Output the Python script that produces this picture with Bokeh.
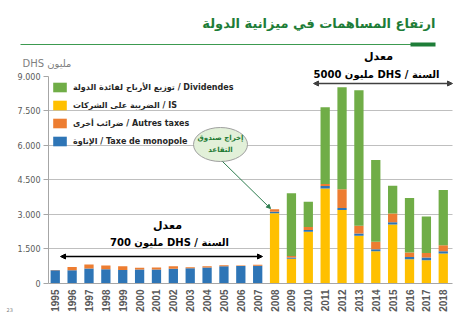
import numpy as np
from bokeh.plotting import figure
from bokeh.models import (Range1d, FixedTicker, Legend, LegendItem, Label, Arrow,
                          NormalHead, BoxAnnotation, ColumnDataSource, Grid)
from bokeh.core.properties import value
from bokeh.embed import file_html
from bokeh.resources import INLINE

# ---------------- data (millions DHS) ----------------
years = list(range(1995, 2019))
impot_societes = [0, 0, 0, 0, 0, 0, 0, 0, 0, 0, 0, 0, 0,
                  3050, 1070, 2245, 4130, 3190, 2070, 1405, 2565, 1055, 1015, 1305]
taxe_monopole = [580, 580, 650, 620, 590, 610, 610, 640, 660, 700, 750, 760, 770,
                 70, 60, 75, 100, 85, 100, 80, 100, 100, 110, 100]
autres_taxes = [10, 140, 175, 160, 160, 70, 85, 110, 50, 45, 45, 25, 40,
                100, 60, 130, 90, 815, 335, 325, 380, 195, 205, 260]
dividendes = [0, 0, 0, 0, 0, 0, 0, 0, 0, 0, 0, 0, 0,
              0, 2725, 1100, 3335, 4435, 5890, 3555, 1205, 2360, 1580, 2395]
y_ticks = [0, 1500, 3000, 4500, 6000, 7500, 9000]
y_tick_labels = ["0", "1.500", "3.000", "4.500", "6.000", "7.500", "9.000"]
series_keys = ["is_", "mono", "autres", "div"]
series_colors = ["#FFC000", "#2E75B6", "#ED7D31", "#70AD47"]
legend_labels = {
    "div": "توزيع الأرباح لفائدة الدولة / Dividendes",
    "is_": "الضريبة على الشركات / IS",
    "autres": "ضرائب أخرى / Autres taxes",
    "mono": "الإتاوة / Taxe de monopole",
}
legend_order = ["div", "is_", "autres", "mono"]

source = ColumnDataSource(dict(year=years, is_=impot_societes, mono=taxe_monopole,
                               autres=autres_taxes, div=dividendes))

# frame covers the whole canvas; axes are pinned at fixed data locations
PX_PER_YEAR = 16.87
X0_PX = 54.75          # pixel of 1995
AX_BOTTOM = 283        # pixel of value 0
UNITS_PER_PX = 9000 / (283 - 75.8)

def xd(px):
    return 1995 + (px - X0_PX) / PX_PER_YEAR

def yd(py):
    return (AX_BOTTOM - py) * UNITS_PER_PX

x_lo, x_hi = xd(48), xd(452)

p = figure(width=470, height=313, x_range=Range1d(xd(0), xd(470)),
           y_range=Range1d(yd(313), yd(0)), output_backend="svg", toolbar_location=None,
           min_border_left=0, min_border_right=0, min_border_top=0,
           min_border_bottom=0)
p.outline_line_color = None
p.background_fill_color = "white"

# grid lines limited to the plot area
p.xgrid.visible = False
p.ygrid.ticker = FixedTicker(ticks=y_ticks[1:-1])
p.ygrid.grid_line_color = "#BFBFBF"
if "cross_bounds" in Grid.properties():
    p.ygrid.cross_bounds = (x_lo, x_hi)
else:
    p.ygrid.visible = False
    p.segment(x0=x_lo, x1=x_hi, y0=y_ticks[1:-1], y1=y_ticks[1:-1],
              line_color="#BFBFBF", line_width=1)

renderers = p.vbar_stack(series_keys, x="year", width=0.55, color=series_colors,
                         source=source, line_color=None)
rmap = dict(zip(series_keys, renderers))

# axes
p.xaxis.fixed_location = 0
p.xaxis.bounds = (x_lo, x_hi)
p.xaxis.ticker = FixedTicker(ticks=years)
p.xaxis.major_label_orientation = np.pi / 2
p.xaxis.major_label_text_font = "Liberation Sans"
p.xaxis.major_label_text_font_style = "bold"
p.xaxis.major_label_text_font_size = "10px"
p.xaxis.major_label_text_color = "#595959"
p.xaxis.major_tick_out = 0
p.xaxis.major_tick_in = 0
p.xaxis.minor_tick_out = 0
p.xaxis.minor_tick_in = 0
p.xaxis.major_label_standoff = 6
p.xaxis.axis_line_color = "#A6A6A6"

p.yaxis.fixed_location = x_lo
p.yaxis.ticker = FixedTicker(ticks=y_ticks)
p.yaxis.major_label_overrides = {t: l for t, l in zip(y_ticks, y_tick_labels)}
p.yaxis.bounds = (0, 9000)
p.yaxis.major_label_text_font = "DejaVu Sans"
p.yaxis.major_label_text_font_size = "8px"
p.yaxis.major_label_text_color = "#595959"
p.yaxis.major_tick_out = 5
p.yaxis.major_tick_in = 0
p.yaxis.minor_tick_out = 0
p.yaxis.minor_tick_in = 0
p.yaxis.major_label_standoff = 3
p.yaxis.axis_line_color = "#A6A6A6"
p.yaxis.major_tick_line_color = "#A6A6A6"

# legend (location measured from bottom-left of the frame = canvas)
legend = Legend(items=[LegendItem(label=legend_labels[k], renderers=[rmap[k]]) for k in legend_order],
                location=(51, 313 - 147), glyph_width=17, glyph_height=12, label_height=12,
                spacing=6, padding=0, margin=0, label_standoff=5,
                label_text_font="DejaVu Sans", label_text_font_style="bold",
                label_text_font_size="8px", label_text_color="#262626",
                background_fill_alpha=0, border_line_color=None)
p.add_layout(legend)

# title and rule
p.add_layout(Label(x=xd(435), y=yd(30), text="ارتفاع المساهمات في ميزانية الدولة",
                   text_align="right", text_font="DejaVu Sans", text_font_style="bold",
                   text_font_size="13px", text_color="#1E7D38"))
p.add_layout(BoxAnnotation(left=xd(20), right=xd(412), bottom=yd(44.5), top=yd(43.5),
                           fill_color="#3C9A50", fill_alpha=1, line_color=None))
p.add_layout(BoxAnnotation(left=xd(410), right=xd(435), bottom=yd(46), top=yd(42),
                           fill_color="#1E7D38", fill_alpha=1, line_color=None))

# unit label
p.add_layout(Label(x=xd(22), y=yd(68), text="DHS مليون", text_font="DejaVu Sans",
                   text_font_size="10px", text_color="#7F7F7F"))
# page number
p.add_layout(Label(x=xd(6), y=yd(311), text="23", text_font="DejaVu Sans",
                   text_font_size="5px", text_color="#7F7F7F"))

# average annotations
p.add_layout(Label(x=xd(167), y=yd(231), text="معدل", text_align="center",
                   text_font="DejaVu Sans", text_font_style="bold", text_font_size="11px",
                   text_color="black"))
p.add_layout(Label(x=xd(169), y=yd(247), text="700 مليون DHS / السنة", text_align="center",
                   text_font="DejaVu Sans", text_font_style="bold", text_font_size="10px",
                   text_color="black"))
p.add_layout(Label(x=xd(378), y=yd(62), text="معدل", text_align="center",
                   text_font="DejaVu Sans", text_font_style="bold", text_font_size="11px",
                   text_color="black"))
p.add_layout(Label(x=xd(376), y=yd(79), text="5000 مليون DHS / السنة", text_align="center",
                   text_font="DejaVu Sans", text_font_style="bold", text_font_size="10px",
                   text_color="black"))

p.add_layout(Arrow(x_start=xd(60), y_start=yd(256), x_end=xd(262), y_end=yd(256),
                   start=NormalHead(size=5, fill_color="black", line_color="black"),
                   end=NormalHead(size=5, fill_color="black", line_color="black"),
                   line_color="black", line_width=1.5))
p.add_layout(Arrow(x_start=xd(313), y_start=yd(83), x_end=xd(452), y_end=yd(83),
                   start=NormalHead(size=5, fill_color="#404040", line_color="#404040"),
                   end=NormalHead(size=5, fill_color="#404040", line_color="#404040"),
                   line_color="#404040", line_width=1.5))

# callout
p.ellipse(x=[xd(220)], y=[yd(144)], width=[54 / PX_PER_YEAR], height=[34 * UNITS_PER_PX],
          fill_color="#E2F0D9", line_color="#A0A0A0", line_width=1)
p.add_layout(Label(x=xd(220), y=yd(141), text="إخراج صندوق", text_align="center",
                   text_font="DejaVu Sans", text_font_style="bold", text_font_size="7px",
                   text_color="#1F7A35"))
p.add_layout(Label(x=xd(220), y=yd(153), text="التقاعد", text_align="center",
                   text_font="DejaVu Sans", text_font_style="bold", text_font_size="7px",
                   text_color="#1F7A35"))
p.add_layout(Arrow(x_start=xd(222), y_start=yd(161), x_end=xd(270), y_end=yd(208),
                   end=NormalHead(size=4, fill_color="#2E7D4F", line_color="#2E7D4F"),
                   line_color="#2E7D4F", line_width=1))

open("out.html", "w").write(file_html(p, INLINE))
